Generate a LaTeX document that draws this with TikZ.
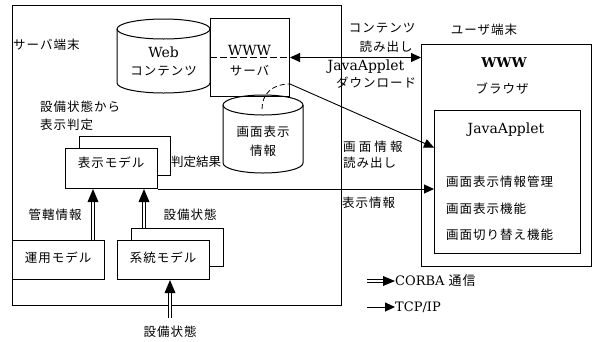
\documentclass[tikz,border=0pt]{standalone}
\usepackage{fontspec}
\newfontfamily\jpfam{Noto Sans CJK JP}[LetterSpace=8]
\newfontfamily\jpnarrow{Noto Sans CJK JP}
\newfontfamily\jpwide{Noto Sans CJK JP}[LetterSpace=25]
\newfontfamily\ltfam{DejaVu Serif}
\usetikzlibrary{arrows.meta}
\tikzset{
  box/.style={draw, line width=1pt, fill=white, anchor=north west, inner sep=0pt},
  cyl/.style={draw, line width=1pt},
  jp/.style={font=\fontsize{12.5}{16}\selectfont\jpfam, inner sep=0pt},
  lt/.style={font=\fontsize{14}{16}\selectfont\ltfam, inner sep=0pt},
  tcp/.style={line width=0.9pt, -{Triangle[length=10pt,width=9pt]}},
  tcpboth/.style={line width=0.9pt, {Triangle[length=10pt,width=9pt]}-{Triangle[length=10pt,width=9pt]}},
  corba/.style={double, double distance=1.8pt, line width=0.75pt, shorten >=11pt},
  tipfill/.style={fill=black},
}
\begin{document}
\begin{tikzpicture}[x=1pt,y=-1pt]
\useasboundingbox (0,0) rectangle (593,341);
% frames
\node[box, minimum width=329pt, minimum height=300pt] (srv) at (12,5) {};
\node[box, minimum width=170pt, minimum height=222pt] (user) at (421,44) {};
\node[box, minimum width=146pt, minimum height=143pt] (applet) at (434,110) {};
% web contents cylinder
\draw[cyl] (117,29) -- (117,83) arc[start angle=180, end angle=0, x radius=46.5, y radius=10] -- (210,29);
\draw[cyl] (163.5,29) ellipse[x radius=46.5, y radius=10];
\node[lt] (webt) at (163.5,52) {Web};
\node[jp] (webj) at (163.5,71) {コンテンツ};
% www server
\node[box, minimum width=79pt, minimum height=78pt] (www) at (210,18) {};
\node[lt] (wwwt) at (249.5,50) {WWW};
\node[jp] (srvj) at (249.5,71) {サーバ};
\draw[line width=0.8pt, dash pattern=on 7pt off 3pt] (www.west) -- (www.east);
% screen info cylinder
\draw[cyl, fill=white] (223,105) -- (223,163) arc[start angle=180, end angle=0, x radius=40, y radius=10] -- (303,105);
\draw[cyl] (263,105) ellipse[x radius=40, y radius=10];
\node[jp] (scr1) at (263,132) {画面表示};
\node[jp] (scr2) at (263,151) {情報};
\coordinate (scrtop) at (262,109);
% display model
\node[box, minimum width=91pt, minimum height=39pt] (dispb) at (79,136) {};
\node[box, minimum width=92pt, minimum height=40pt] (disp) at (65,148) {};
\node[jp] (dispt) at (111,163) {表示モデル};
% operation / system models
\node[box, minimum width=92pt, minimum height=39pt] (ops) at (12,240) {};
\node[jp] (opst) at (58,258) {運用モデル};
\node[box, minimum width=92pt, minimum height=38pt] (sysb) at (131,228) {};
\node[box, minimum width=92pt, minimum height=39pt] (sys) at (117,240) {};
\node[jp] (syst) at (163,258) {系統モデル};
% labels left
\node[jp, anchor=west] (srvlbl) at (13,45) {サーバ端末};
\node[jp, anchor=west] (hantei1) at (40,107) {設備状態から};
\node[jp, anchor=west] (hantei2) at (40,125) {表示判定};
\node[jp, anchor=west, font=\fontsize{12.5}{16}\selectfont\jpnarrow] (kekka) at (171,162) {判定結果};
\node[jp] (kankatsu) at (55,215) {管轄情報};
\node[jp] (setsu1) at (190,215) {設備状態};
\node[jp] (setsu2) at (170,332) {設備状態};
\coordinate (setsin) at (170,318);
% labels middle
\node[jp] (cont) at (382,28) {コンテンツ};
\node[jp] (yomi1) at (386,47) {読み出し};
\node[lt] (jal) at (366,67) {JavaApplet};
\node[jp] (dl) at (376,83) {ダウンロード};
\node[jp, anchor=west, font=\fontsize{12.5}{16}\selectfont\jpwide] (gamen) at (343,147) {画面情報};
\node[jp, anchor=west] (yomi2) at (343,163) {読み出し};
\node[jp, anchor=west] (hyoji) at (342,203) {表示情報};
% user terminal
\node[jp] (userlbl) at (484,30) {ユーザ端末};
\node[lt, font=\fontsize{13.5}{16}\selectfont\ltfam\bfseries] (wwwb) at (504,63) {WWW};
\node[jp] (browser) at (502,89) {ブラウザ};
\node[lt] (jat) at (506,130) {JavaApplet};
\node[jp, anchor=west] (f1) at (446,182) {画面表示情報管理};
\node[jp, anchor=west] (f2) at (446,209) {画面表示機能};
\node[jp, anchor=west] (f3) at (446,235) {画面切り替え機能};
% connectors
\coordinate (wsout) at ([yshift=13pt]www.south east);
\draw[tcpboth] (www.east) -- (www.east -| user.west);
\draw[tcp] (wsout) -- ([yshift=34.5pt]applet.west);
\draw[line width=0.8pt, dash pattern=on 5pt off 3pt] (scrtop) .. controls (262,94) and (272,84) .. (wsout);
\draw[tcp] (disp.south east) -- (disp.south east -| applet.west);
% CORBA arrows: double shaft + filled head
\coordinate (c1a) at ([xshift=-12pt]ops.north east);
\coordinate (c1b) at (c1a |- disp.south);
\draw[corba] (c1a) -- (c1b);
\fill[tipfill] (c1b) -- ++(-5.5,13) -- ++(11,0) -- cycle;
\coordinate (c2a) at ([xshift=13pt]sysb.north west);
\coordinate (c2b) at (c2a |- disp.south);
\draw[corba] (c2a) -- (c2b);
\fill[tipfill] (c2b) -- ++(-5.5,13) -- ++(11,0) -- cycle;
\coordinate (c3b) at (setsin |- sys.south);
\draw[corba] (setsin) -- (c3b);
\fill[tipfill] (c3b) -- ++(-5.5,13) -- ++(11,0) -- cycle;
% legend
\coordinate (lg1) at (367,281);
\node[lt, anchor=west, font=\fontsize{13}{16}\selectfont\ltfam] (lgc) at (395,281) {CORBA {\jpfam 通信}};
\draw[corba] (lg1) -- (lgc.west);
\fill[tipfill] (lgc.west) -- ++(-12,-5) -- ++(0,10) -- cycle;
\coordinate (lg2) at (367,307);
\node[lt, anchor=west, font=\fontsize{13}{16}\selectfont\ltfam] (lgt) at (395,307) {TCP/IP};
\draw[tcp] (lg2) -- (lgt.west);
\end{tikzpicture}
\end{document}
